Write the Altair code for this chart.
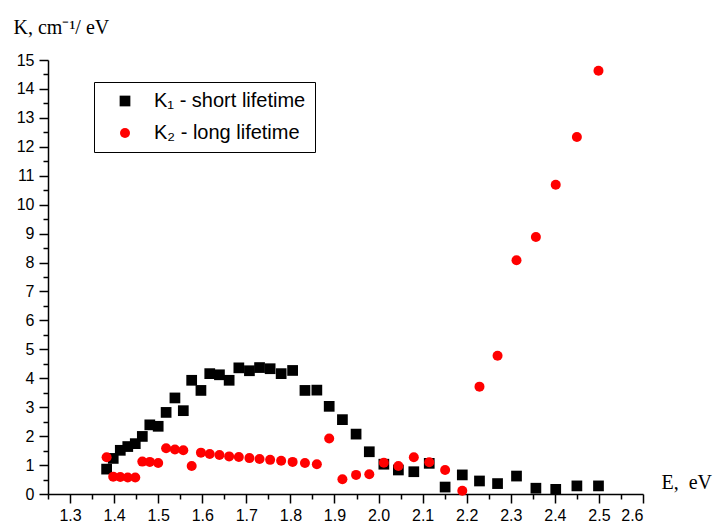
import altair as alt
import pandas as pd

# photon energy, eV
energy = [1.383, 1.398, 1.414, 1.431, 1.448, 1.464, 1.481, 1.500, 1.518, 1.538,
          1.557, 1.576, 1.597, 1.617, 1.639, 1.661, 1.683, 1.707, 1.730, 1.754,
          1.779, 1.805, 1.833, 1.860, 1.888, 1.918, 1.949, 1.979, 2.012, 2.045,
          2.080, 2.115, 2.151, 2.190, 2.229, 2.270, 2.313, 2.357, 2.402, 2.450,
          2.499]

# K1 - short lifetime
k1_short = [0.86, 1.23, 1.51, 1.64, 1.74, 1.99, 2.39, 2.34, 2.82, 3.32,
            2.88, 3.93, 3.58, 4.16, 4.12, 3.93, 4.36, 4.26, 4.37, 4.33,
            4.16, 4.27, 3.58, 3.59, 3.03, 2.57, 2.07, 1.46, 1.03, 0.83,
            0.77, 1.06, 0.24, 0.66, 0.45, 0.36, 0.62, 0.20, 0.16, 0.28,
            0.28]

# K2 - long lifetime
k2_long = [1.27, 0.60, 0.59, 0.57, 0.57, 1.12, 1.11, 1.07, 1.58, 1.54,
           1.51, 0.97, 1.43, 1.38, 1.35, 1.30, 1.28, 1.24, 1.21, 1.18,
           1.15, 1.11, 1.07, 1.03, 1.92, 0.51, 0.66, 0.68, 1.08, 0.97,
           1.27, 1.10, 0.83, 0.11, 3.71, 4.78, 8.08, 8.88, 10.69, 12.34,
           14.63]

series_names = ["K\u2081 - short lifetime", "K\u2082 - long lifetime"]
series_colors = ["#000000", "#ff0000"]
series_shapes = ["square", "circle"]
series_sizes = [115, 100]

x_ticks = [1.25, 1.30, 1.35, 1.40, 1.45, 1.50, 1.55, 1.60, 1.65, 1.70, 1.75,
           1.80, 1.85, 1.90, 1.95, 2.00, 2.05, 2.10, 2.15, 2.20, 2.25, 2.30,
           2.35, 2.40, 2.45, 2.50, 2.55, 2.60]
y_ticks = [0, 0.5, 1, 1.5, 2, 2.5, 3, 3.5, 4, 4.5, 5, 5.5, 6, 6.5, 7, 7.5, 8,
           8.5, 9, 9.5, 10, 10.5, 11, 11.5, 12, 12.5, 13, 13.5, 14, 14.5, 15]

df = pd.DataFrame({
    "E": energy + energy,
    "K": k1_short + k2_long,
    "series": [series_names[0]] * len(energy) + [series_names[1]] * len(energy),
})

x_major = "abs(datum.value*10 - round(datum.value*10)) < 0.001"
y_major = "abs(datum.value - round(datum.value)) < 0.001"

sans = "Liberation Sans"
serif = "Liberation Serif"

legend_kw = dict(
    title=None, orient="none", legendX=46, legendY=22,
    strokeColor="#000000", fillColor="#ffffff",
    padding=9, symbolOffset=12, labelOffset=19, rowPadding=12,
    labelFont=sans, labelFontSize=20, labelColor="#000000",
    symbolSize=100, symbolStrokeWidth=0, labelLimit=400,
)

chart = alt.Chart(df).mark_point(filled=True, opacity=1, strokeWidth=0).encode(
    x=alt.X("E:Q",
            scale=alt.Scale(domain=[1.25, 2.6], nice=False, zero=False),
            axis=alt.Axis(
                values=x_ticks, title="E,\u00a0 eV",
                labelExpr=f"{x_major} ? format(datum.value, '.1f') : ''",
                labelOverlap=False, labelFont=sans, labelFontSize=16,
                labelColor="#000000", labelPadding=4,
                tickSize={"condition": {"test": x_major, "value": 9}, "value": 5},
                tickColor="#000000", tickWidth=1.5,
                domainColor="#000000", domainWidth=1.5, grid=False,
                titleFont=serif, titleFontSize=20, titleFontWeight="normal",
                titleColor="#000000", titleX=613, titleY=-6,
                titleAlign="left", titleBaseline="alphabetic", titleAngle=0,
            )),
    y=alt.Y("K:Q",
            scale=alt.Scale(domain=[0, 15], nice=False),
            axis=alt.Axis(
                values=y_ticks, title="K, cm\u207b\u00b9/ eV",
                labelExpr=f"{y_major} ? format(datum.value, 'd') : ''",
                labelOverlap=False, labelFont=sans, labelFontSize=16,
                labelColor="#000000", labelPadding=5,
                tickSize={"condition": {"test": y_major, "value": 9}, "value": 5},
                tickColor="#000000", tickWidth=1.5,
                domainColor="#000000", domainWidth=1.5, grid=False,
                titleFont=serif, titleFontSize=20, titleFontWeight="normal",
                titleColor="#000000", titleX=-35, titleY=-27,
                titleAlign="left", titleBaseline="alphabetic", titleAngle=0,
            )),
    color=alt.Color("series:N",
                    scale=alt.Scale(domain=series_names, range=series_colors),
                    legend=alt.Legend(**legend_kw)),
    shape=alt.Shape("series:N",
                    scale=alt.Scale(domain=series_names, range=series_shapes),
                    legend=alt.Legend(**legend_kw)),
    size=alt.Size("series:N",
                  scale=alt.Scale(domain=series_names, range=series_sizes),
                  legend=None),
).properties(
    width=595, height=434,
    autosize=alt.AutoSizeParams(type="none"),
    padding={"left": 48, "top": 60, "right": 72, "bottom": 32},
    background="#ffffff",
).configure_view(stroke=None).configure_legend(strokeWidth=1)

chart.save("out.html", embed_options={"renderer": "svg", "actions": False})
